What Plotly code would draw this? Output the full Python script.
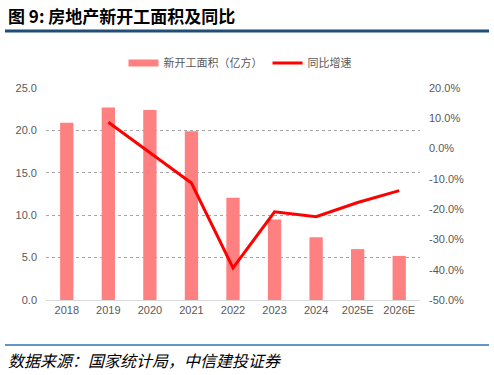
import plotly.graph_objects as go

years = ["2018", "2019", "2020", "2021", "2022", "2023", "2024", "2025E", "2026E"]
area = [20.9, 22.7, 22.4, 19.9, 12.06, 9.5, 7.4, 6.0, 5.2]
growth_years = ["2019", "2020", "2021", "2022", "2023", "2024", "2025E", "2026E"]
growth = [8.7, -1.4, -11.4, -39.4, -20.9, -22.5, -17.8, -13.9]
left_ticks = [0, 5, 10, 15, 20, 25]
right_ticks = [20, 10, 0, -10, -20, -30, -40, -50]

W, H = 494, 375
L, R, T, B = 46, 74, 88, 75
pw, ph = W - L - R, H - T - B

def px(x):
    return (x - L) / pw

def py(y):
    return (H - B - y) / ph

fig = go.Figure()
fig.add_trace(go.Bar(
    x=years, y=area, name="新开工面积（亿方）", showlegend=False,
    marker=dict(color="#FF8080", line=dict(width=0)), width=0.32,
))
# legend proxy for the bar series (wide rectangle swatch)
fig.add_trace(go.Scatter(
    x=[None], y=[None], name="新开工面积（亿方）", mode="lines",
    line=dict(color="#FF8080", width=7),
))
fig.add_trace(go.Scatter(
    x=growth_years, y=growth, name="同比增速", yaxis="y2",
    mode="lines", line=dict(color="#FF0000", width=3),
))

tickfont = dict(family="Liberation Sans, Arial, sans-serif", size=11, color="#595959")

fig.update_layout(
    width=W, height=H,
    margin=dict(l=L, r=R, t=T, b=B),
    paper_bgcolor="white", plot_bgcolor="white",
    showlegend=True,
    legend=dict(orientation="h", x=px(240), xanchor="center", y=py(63), yanchor="middle",
                font=dict(family="Noto Sans CJK SC", size=11, color="#595959"),
                itemwidth=30, tracegroupgap=0, bgcolor="rgba(0,0,0,0)"),
    xaxis=dict(type="category", tickfont=tickfont, showline=True, linecolor="#D9D9D9",
               linewidth=1, ticks="", showgrid=False),
    yaxis=dict(range=[0, 25], tickvals=left_ticks, ticktext=[f"{v:.1f}" for v in left_ticks],
               tickfont=tickfont, showgrid=True, gridcolor="#A6A6A6", griddash="dot",
               gridwidth=1, zeroline=False, showline=False, ticks="", ticklabelstandoff=8),
    yaxis2=dict(range=[-50, 20], overlaying="y", side="right",
                tickvals=right_ticks, ticktext=[f"{v:.1f}%" for v in right_ticks],
                tickfont=tickfont, showgrid=False, zeroline=False, showline=False, ticks="",
                ticklabelstandoff=8),
    shapes=[
        dict(type="line", xref="paper", yref="paper", x0=px(5), x1=px(489), y0=py(31), y1=py(31),
             line=dict(color="#1F4E79", width=3)),
        dict(type="line", xref="paper", yref="paper", x0=px(5), x1=px(489), y0=py(345), y1=py(345),
             line=dict(color="#2E75B6", width=1.5)),
    ],
    annotations=[
        dict(text="<b>图 9: 房地产新开工面积及同比</b>", xref="paper", yref="paper",
             x=px(6), y=py(15), xanchor="left", yanchor="middle", showarrow=False,
             font=dict(family="Noto Sans CJK SC", size=17, color="#000000")),
        dict(text="<i>数据来源：国家统计局，中信建投证券</i>", xref="paper", yref="paper",
             x=px(6), y=py(360), xanchor="left", yanchor="middle", showarrow=False,
             font=dict(family="Noto Sans CJK SC", size=16, color="#000000")),
    ],
)

fig.write_html("out.html", config={"displayModeBar": False},
               post_script="document.body.style.margin='0';")
